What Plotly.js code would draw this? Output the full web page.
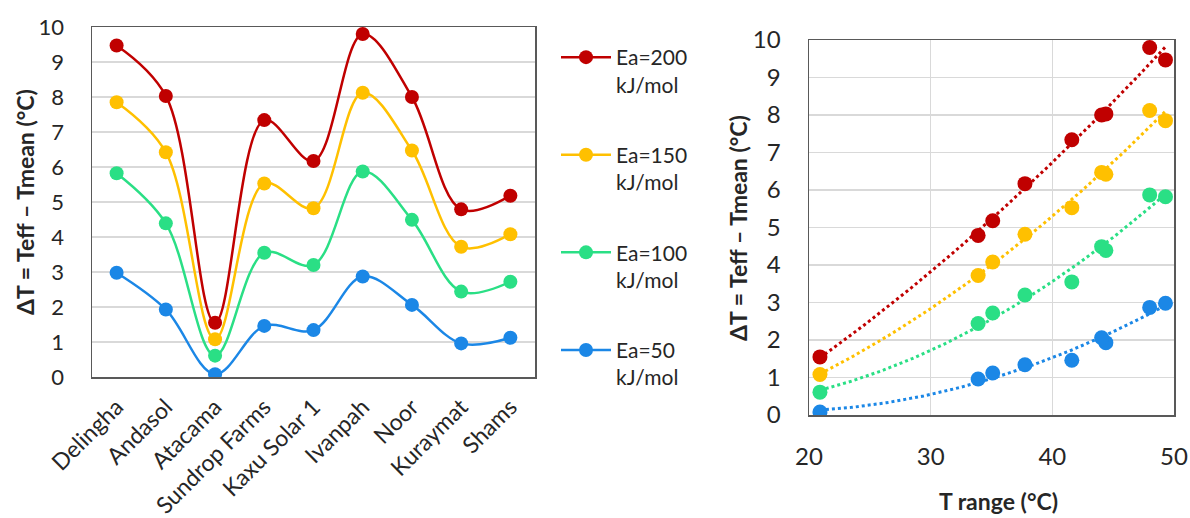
<!DOCTYPE html>
<html>
<head>
<meta charset="utf-8">
<script src="https://cdn.plot.ly/plotly-3.0.1.min.js"></script>
<style>html,body{margin:0;padding:0;background:#fff;}#chart{width:1190px;height:518px;}</style>
</head>
<body>
<div id="chart"></div>
<script>
// ---- data ----
const sites = ["Delingha","Andasol","Atacama","Sundrop Farms","Kaxu Solar 1","Ivanpah","Noor","Kuraymat","Shams"];
const tRange = [49.3, 44.4, 20.9, 41.6, 37.75, 48.0, 44.05, 33.9, 35.1];
const ea200 = [9.47, 8.03, 1.55, 7.34, 6.17, 9.80, 8.00, 4.79, 5.18];
const ea150 = [7.85, 6.42, 1.08, 5.53, 4.82, 8.12, 6.47, 3.72, 4.08];
const ea100 = [5.82, 4.39, 0.61, 3.55, 3.20, 5.87, 4.49, 2.44, 2.72];
const ea50  = [2.98, 1.93, 0.08, 1.46, 1.34, 2.87, 2.06, 0.96, 1.12];
const seriesNames = ["Ea=200<br>kJ/mol","Ea=150<br>kJ/mol","Ea=100<br>kJ/mol","Ea=50<br>kJ/mol"];
const seriesValues = [ea200, ea150, ea100, ea50];
const colors = ["#C00000","#FFC000","#2ADF85","#1B87E6"];

// quadratic least-squares trendline (as Excel's polynomial order 2)
function quadFit(xs, ys){
  let n=xs.length, s=[0,0,0,0,0], t=[0,0,0];
  for(let i=0;i<n;i++){const x=xs[i],y=ys[i];
    for(let k=0;k<5;k++) s[k]+=Math.pow(x,k);
    for(let k=0;k<3;k++) t[k]+=y*Math.pow(x,k);}
  const A=[[s[0],s[1],s[2],t[0]],[s[1],s[2],s[3],t[1]],[s[2],s[3],s[4],t[2]]];
  for(let i=0;i<3;i++){for(let j=i+1;j<3;j++){const f=A[j][i]/A[i][i];for(let k=i;k<4;k++)A[j][k]-=f*A[i][k];}}
  const c=[0,0,0];
  for(let i=2;i>=0;i--){let v=A[i][3];for(let k=i+1;k<3;k++)v-=A[i][k]*c[k];c[i]=v/A[i][i];}
  return c;
}

const font = "Lato, 'Open Sans', sans-serif";
const textColor = "#262626";
const traces = [];
seriesValues.forEach((vals,i)=>{
  traces.push({
    x: sites, y: vals, type:'scatter', mode:'lines+markers',
    name: seriesNames[i], legendgroup: 'g'+i,
    line:{color:colors[i], width:2.5, shape:'spline', smoothing:1},
    marker:{color:colors[i], size:14},
    xaxis:'x', yaxis:'y', hoverinfo:'skip'
  });
});
seriesValues.forEach((vals,i)=>{
  const c = quadFit(tRange, vals);
  const xmin = Math.min(...tRange), xmax = Math.max(...tRange);
  const tx=[], ty=[];
  for(let k=0;k<=120;k++){const x=xmin+(xmax-xmin)*k/120; tx.push(x); ty.push(c[0]+c[1]*x+c[2]*x*x);}
  traces.push({x:tx, y:ty, type:'scatter', mode:'lines', showlegend:false,
    line:{color:colors[i], width:3, dash:'dot'}, xaxis:'x2', yaxis:'y2', hoverinfo:'skip'});
});
seriesValues.forEach((vals,i)=>{
  traces.push({x:tRange, y:vals, type:'scatter', mode:'markers', showlegend:false,
    marker:{color:colors[i], size:15}, xaxis:'x2', yaxis:'y2', hoverinfo:'skip'});
});

const W=1190, H=518;
const axisLine = {showline:true, mirror:true, linecolor:'#595959', linewidth:1.5, zeroline:false};
const layout = {
  width:W, height:H, margin:{l:0,r:0,t:0,b:0},
  paper_bgcolor:'#fff', plot_bgcolor:'#fff',
  font:{family:font, color:textColor},
  showlegend:true,
  legend:{x:556/W, y:1-37/H, xanchor:'left', yanchor:'top', font:{size:21, family:font, color:textColor},
          itemwidth:50, valign:'top', traceorder:'grouped', tracegroupgap:40, bgcolor:'rgba(0,0,0,0)'},
  xaxis:Object.assign({domain:[92/W, 535/W], anchor:'y', type:'category', range:[-0.5,8.5],
          showgrid:false, tickangle:-45, tickfont:{size:23}, ticks:'', ticklabelstandoff:6}, axisLine),
  yaxis:Object.assign({domain:[1-377/H, 1-27/H], anchor:'x', range:[0,10], dtick:1,
          showgrid:true, gridcolor:'#d9d9d9', gridwidth:1.3, tickfont:{size:22}, ticks:'', ticklabelstandoff:22}, axisLine),
  xaxis2:Object.assign({domain:[809/W, 1174/W], anchor:'y2', range:[20,50], dtick:10,
          showgrid:true, gridcolor:'#d9d9d9', gridwidth:1.3, tickfont:{size:24}, ticks:'', ticklabelstandoff:20}, axisLine),
  yaxis2:Object.assign({domain:[1-415/H, 1-40/H], anchor:'x2', range:[0,10], dtick:1,
          showgrid:true, gridcolor:'#d9d9d9', gridwidth:1.3, tickfont:{size:24}, ticks:'', ticklabelstandoff:22}, axisLine),
  annotations:[
    {text:'<b>ΔT = Teff – Tmean (°C)</b>', xref:'paper', yref:'paper', x:25/W, y:1-202/H, textangle:-90,
     showarrow:false, xanchor:'center', yanchor:'middle', font:{size:23, family:font, color:textColor}},
    {text:'<b>ΔT = Teff – Tmean (°C)</b>', xref:'paper', yref:'paper', x:738/W, y:1-228/H, textangle:-90,
     showarrow:false, xanchor:'center', yanchor:'middle', font:{size:23, family:font, color:textColor}},
    {text:'<b>T range (°C)</b>', xref:'paper', yref:'paper', x:998/W, y:1/H,
     showarrow:false, xanchor:'center', yanchor:'bottom', font:{size:23, family:font, color:textColor}}
  ]
};
Plotly.newPlot('chart', traces, layout, {staticPlot:true, displayModeBar:false});
</script>
</body>
</html>
